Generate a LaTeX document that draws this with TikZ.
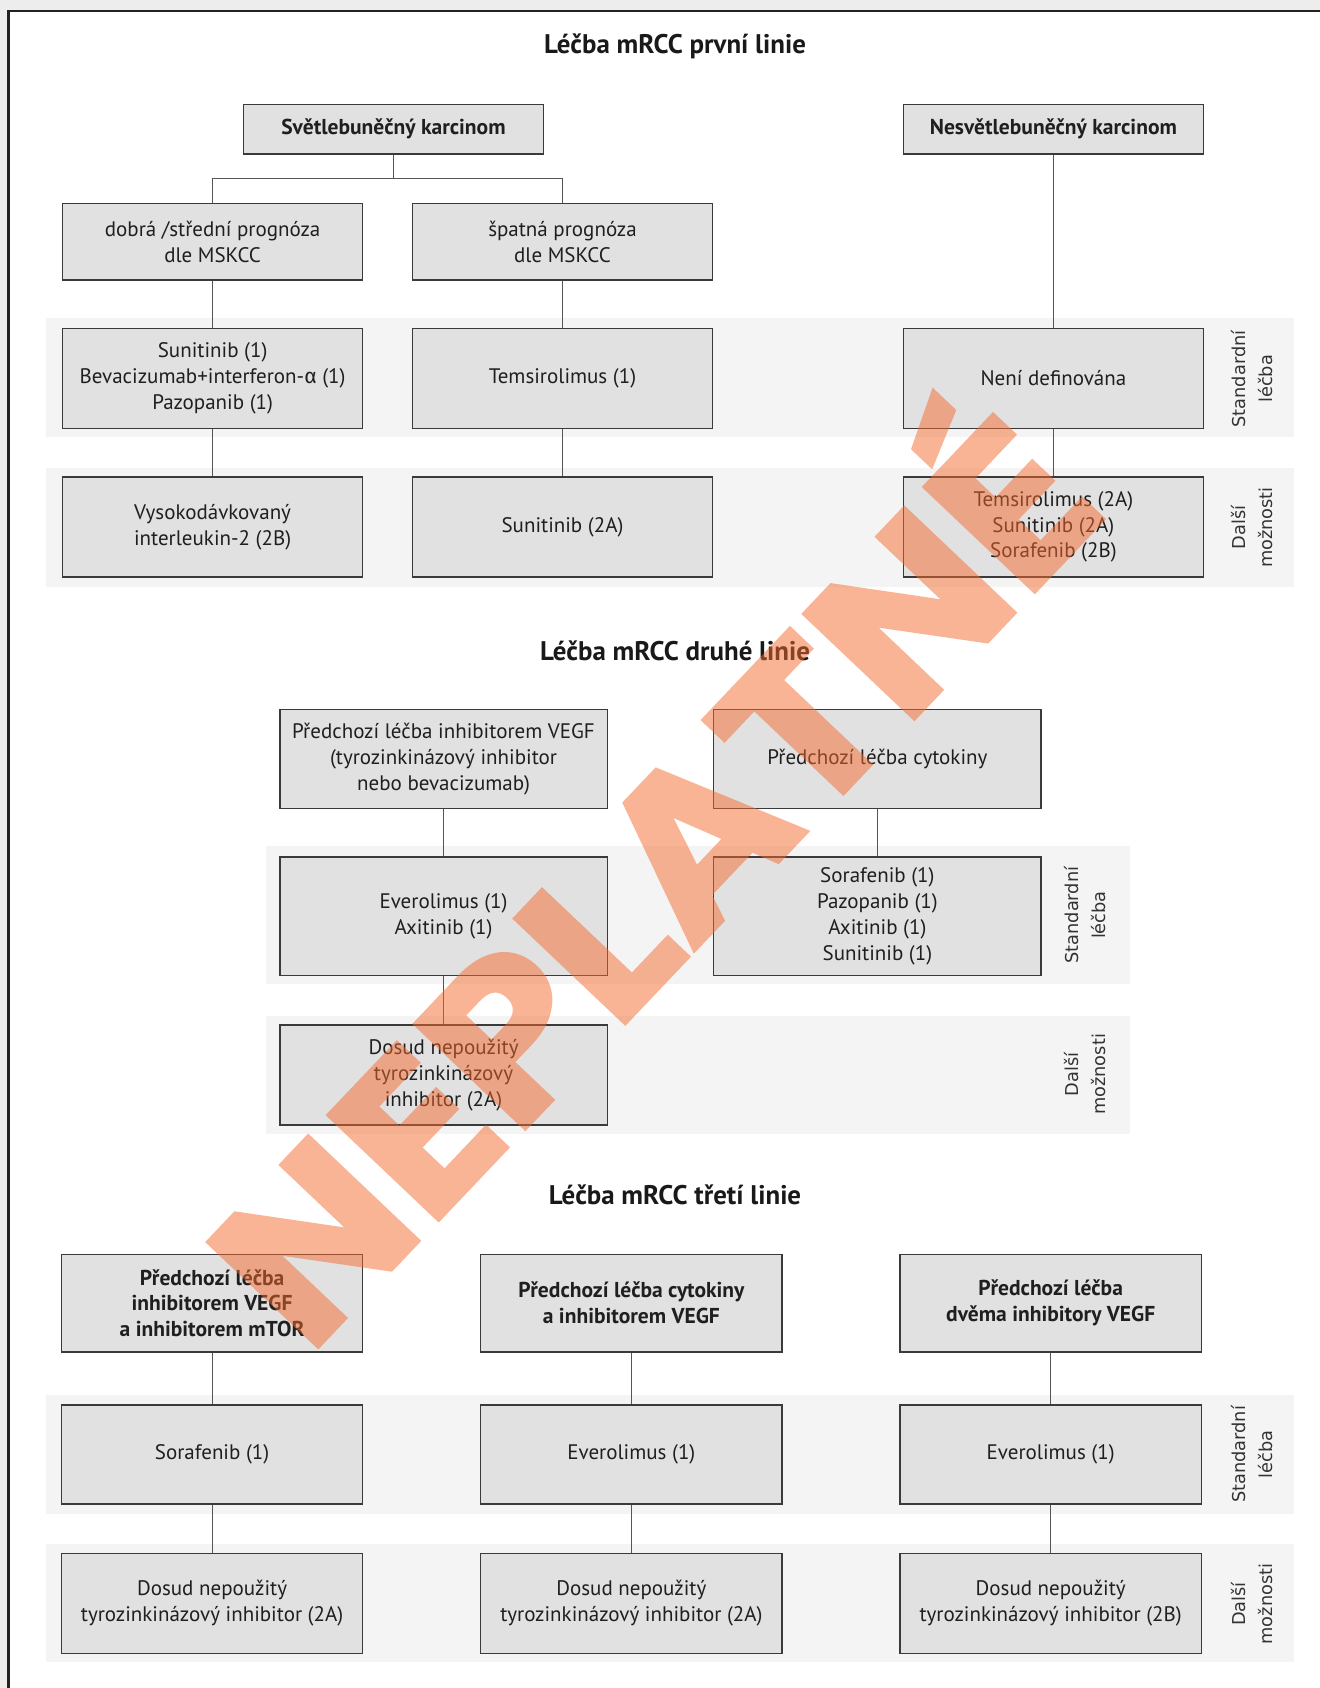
\documentclass[tikz,border=0pt]{standalone}
\usepackage{fontspec}
\setmainfont{PT Sans}
\newfontfamily\sidefont{DejaVu Sans}
\newfontfamily\grkfont{Fira Sans}
\newfontfamily\wmfont{Poppins}[BoldFeatures={FakeBold=1.5}]
\definecolor{boxfill}{HTML}{E1E1E1}
\definecolor{boxline}{HTML}{3A3A3A}
\definecolor{bandfill}{HTML}{F4F4F4}
\definecolor{linkcol}{HTML}{555555}
\definecolor{framecol}{HTML}{222222}
\definecolor{outside}{HTML}{EDEDED}
\definecolor{wmorange}{RGB}{245,105,45}
\begin{document}
\begin{tikzpicture}[x=1pt,y=-1pt,
  bx/.style={draw=boxline, line width=1.2pt, fill=boxfill, inner sep=0pt,
    minimum width=279pt, align=center, text=black!88,
    font=\fontsize{19.5}{24}\selectfont},
  bxb/.style={bx, font=\bfseries\fontsize{20}{24}\selectfont},
  wide/.style={minimum width=304pt},
  band/.style={fill=bandfill, draw=none},
  link/.style={draw=linkcol, line width=0.9pt},
  title/.style={font=\bfseries\fontsize{25}{28}\selectfont, text=black!90},
  side/.style={rotate=90, align=center, text=black!80,
    font=\sidefont\fontsize{16.5}{25}\selectfont}]
\useasboundingbox (0,0) rectangle (1226,1568);
\fill[white] (0,0) rectangle (1226,1568);
% page margin outside the frame
\fill[outside] (0,0) rectangle (1226,9);
\fill[outside] (0,0) rectangle (7,1568);
\draw[framecol, line width=2.2pt] (8,1568) -- (8,10) -- (1226,10);

% ---------- first line ----------
\fill[band] (43,295) rectangle (1202,406);
\fill[band] (43,435) rectangle (1202,545);
\node[title] (t1) at (627,43) {Léčba mRCC první linie};
\node[bxb, minimum height=46pt] (s1) at (365.5,120) {Světlebuněčný karcinom};
\node[bxb, minimum height=46pt] (n1) at (978.5,120) {Nesvětlebuněčný karcinom};
\node[bx, minimum height=71pt] (p1) at (197.5,224.5) {dobrá /střední prognóza\\dle MSKCC};
\node[bx, minimum height=71pt] (p2) at (522.5,224.5) {špatná prognóza\\dle MSKCC};
\node[bx, minimum height=93pt] (a1) at (197.5,351.5) {Sunitinib (1)\\Bevacizumab+interferon-{\grkfont α} (1)\\Pazopanib (1)};
\node[bx, minimum height=93pt] (a2) at (522.5,351.5) {Temsirolimus (1)};
\node[bx, minimum height=93pt] (a3) at (978.5,351.5) {Není definována};
\node[bx, minimum height=93pt] (b1) at (197.5,489.5) {Vysokodávkovaný\\interleukin-2 (2B)};
\node[bx, minimum height=93pt] (b2) at (522.5,489.5) {Sunitinib (2A)};
\node[bx, minimum height=93pt] (b3) at (978.5,489.5) {Temsirolimus (2A)\\Sunitinib (2A)\\Sorafenib (2B)};
\node[side] (l1) at (1163,352) {Standardní\\léčba};
\node[side] (l2) at (1163,490) {Další\\možnosti};
\draw[link] (s1.south) -- ++(0,22) -| (p1.north);
\draw[link] (s1.south) -- ++(0,22) -| (p2.north);
\draw[link] (n1) -- (a3);
\draw[link] (p1) -- (a1);
\draw[link] (p2) -- (a2);
\draw[link] (a1) -- (b1);
\draw[link] (a2) -- (b2);
\draw[link] (a3) -- (b3);

% ---------- second line ----------
\fill[band] (247,786) rectangle (1050,914);
\fill[band] (247,944) rectangle (1050,1053);
\node[title] (t2) at (627,605) {Léčba mRCC druhé linie};
\node[bx, wide, minimum height=92pt] (c1) at (412,705) {Předchozí léčba inhibitorem VEGF\\(tyrozinkinázový inhibitor\\nebo bevacizumab)};
\node[bx, wide, minimum height=92pt] (c2) at (815,705) {Předchozí léčba cytokiny};
\node[bx, wide, minimum height=110pt] (d1) at (412,851) {Everolimus (1)\\Axitinib (1)};
\node[bx, wide, minimum height=110pt] (d2) at (815,851) {Sorafenib (1)\\Pazopanib (1)\\Axitinib (1)\\Sunitinib (1)};
\node[bx, wide, minimum height=93pt] (e1) at (412,998.5) {Dosud nepoužitý\\tyrozinkinázový\\inhibitor (2A)};
\node[side] (l3) at (1008,850) {Standardní\\léčba};
\node[side] (l4) at (1008,998) {Další\\možnosti};
\draw[link] (c1) -- (d1);
\draw[link] (c2) -- (d2);
\draw[link] (d1) -- (e1);

% ---------- third line ----------
\fill[band] (43,1296) rectangle (1202,1406);
\fill[band] (43,1434) rectangle (1202,1544);
\node[title] (t3) at (627,1110) {Léčba mRCC třetí linie};
\node[bxb, minimum width=280pt, minimum height=91pt] (f1) at (197,1210.5) {Předchozí léčba\\inhibitorem VEGF\\a inhibitorem mTOR};
\node[bxb, minimum width=280pt, minimum height=91pt] (f2) at (586.5,1210.5) {Předchozí léčba cytokiny\\a inhibitorem VEGF};
\node[bxb, minimum width=280pt, minimum height=91pt] (f3) at (976,1210.5) {Předchozí léčba\\dvěma inhibitory VEGF};
\node[bx, minimum width=280pt, minimum height=92pt] (g1) at (197,1351) {Sorafenib (1)};
\node[bx, minimum width=280pt, minimum height=92pt] (g2) at (586.5,1351) {Everolimus (1)};
\node[bx, minimum width=280pt, minimum height=92pt] (g3) at (976,1351) {Everolimus (1)};
\node[bx, minimum width=280pt, minimum height=93pt] (h1) at (197,1489.5) {Dosud nepoužitý\\tyrozinkinázový inhibitor (2A)};
\node[bx, minimum width=280pt, minimum height=93pt] (h2) at (586.5,1489.5) {Dosud nepoužitý\\tyrozinkinázový inhibitor (2A)};
\node[bx, minimum width=280pt, minimum height=93pt] (h3) at (976,1489.5) {Dosud nepoužitý\\tyrozinkinázový inhibitor (2B)};
\node[side] (l5) at (1163,1351) {Standardní\\léčba};
\node[side] (l6) at (1163,1490) {Další\\možnosti};
\draw[link] (f1) -- (g1);
\draw[link] (f2) -- (g2);
\draw[link] (f3) -- (g3);
\draw[link] (g1) -- (h1);
\draw[link] (g2) -- (h2);
\draw[link] (g3) -- (h3);

% ---------- stamp across the page ----------
\begin{scope}[transparency group, opacity=0.5]
\node[rotate=46.5, xscale=1.07, text=wmorange, inner sep=0pt,
  font=\wmfont\bfseries\fontsize{202}{202}\selectfont] (wm) at (588,800) {NEPLATNÉ};
\end{scope}
\end{tikzpicture}
\end{document}
